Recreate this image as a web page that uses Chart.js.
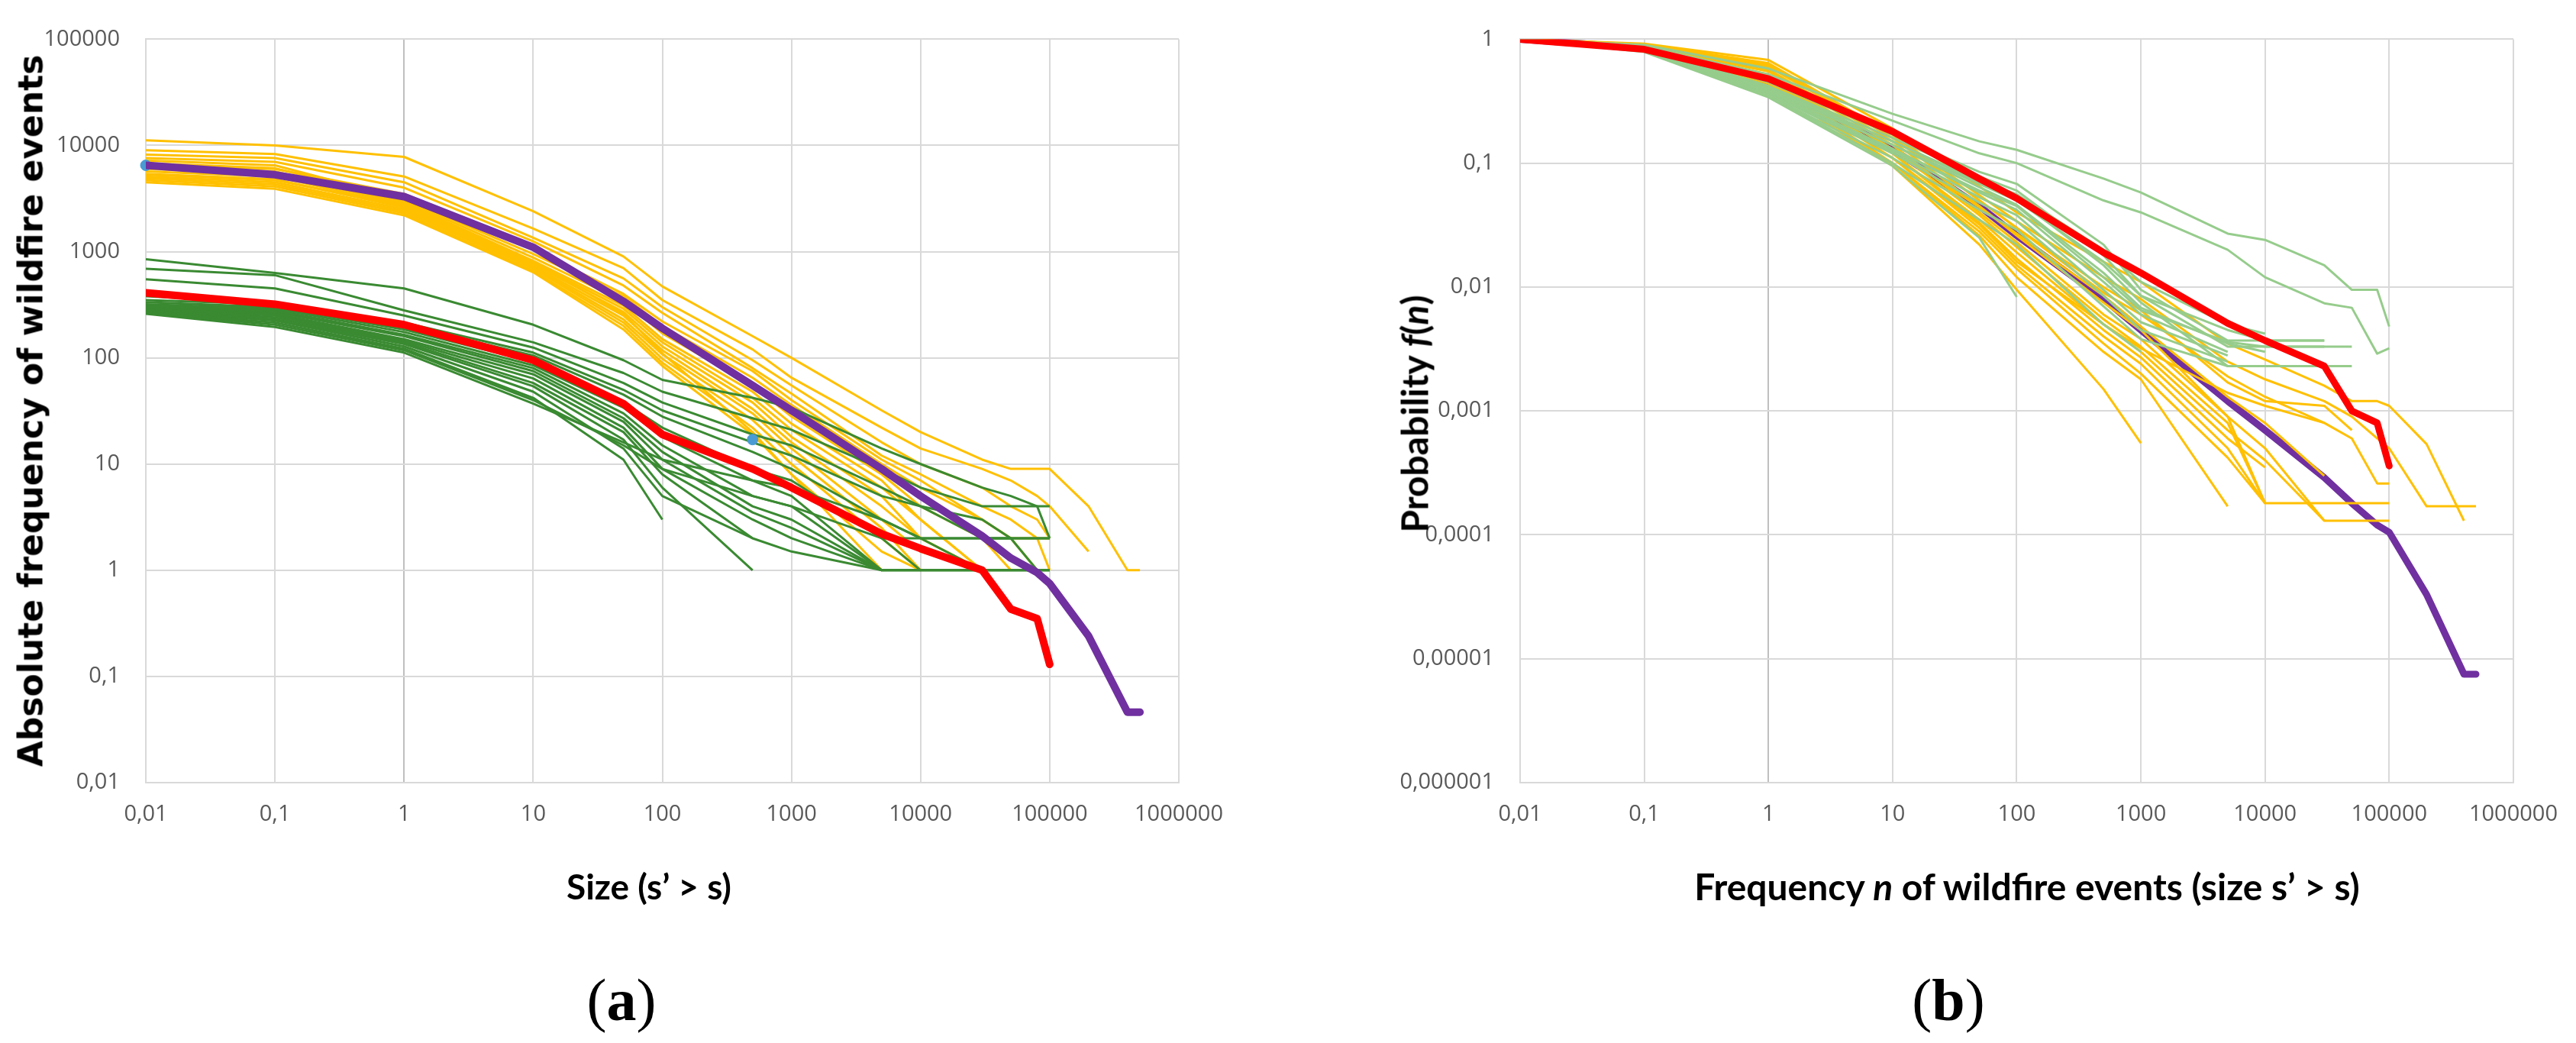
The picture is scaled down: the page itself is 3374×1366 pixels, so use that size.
<!DOCTYPE html>
<html>
<head>
<meta charset="utf-8">
<title>Wildfire frequency distributions</title>
<script src="https://cdn.jsdelivr.net/npm/chart.js@4.4.1/dist/chart.umd.min.js"></script>
<style>
    html, body { margin: 0; padding: 0; background: #ffffff; }
    body { width: 3374px; height: 1366px; position: relative; overflow: hidden; }
    canvas { position: absolute; top: 0; }
    #chartA { left: 0; }
    #chartB { left: 1700px; }
    .lbl { position: absolute; white-space: nowrap; color: #000; }
    .ytitle { transform: translate(-50%, -50%) rotate(-90deg); }
    .xtitle { transform: translate(-50%, -50%); }
</style>
</head>
<body>
<canvas id="chartA" width="1700" height="1366"></canvas>
<canvas id="chartB" width="1674" height="1366"></canvas>

<div class="lbl ytitle" style="left:40px; top:538px; font:bold 44px 'DejaVu Sans';">Absolute frequency of wildfire events</div>
<div class="lbl xtitle" style="left:850px; top:1160px; font:bold 46px Lato;">Size (s’ &gt; s)</div>
<div class="lbl xtitle" style="left:814px; top:1310px; font:78px 'Liberation Serif';">(<b>a</b>)</div>

<div class="lbl ytitle" style="left:1852px; top:542px; font:bold 48px Lato;">Probability <i>f</i>(<i>n</i>)</div>
<div class="lbl xtitle" style="left:2655px; top:1160px; font:bold 48px Lato;">Frequency <i>n</i> of wildfire events (size s’ &gt; s)</div>
<div class="lbl xtitle" style="left:2552px; top:1310px; font:78px 'Liberation Serif';">(<b>b</b>)</div>

<script>
// x thresholds shared by every series (size s for panel a, frequency n for panel b)
const sizeA = [0.01, 0.1, 1, 10, 50, 100, 500, 1000, 5000, 10000, 30000, 50000, 80000, 100000, 200000, 400000, 500000];
const freqB = [0.01, 0.1, 1, 10, 50, 100, 500, 1000, 5000, 10000, 30000, 50000, 80000, 100000, 200000, 400000, 500000];

// tick labels (comma decimals as in the original)
const xTickValues = [0.01, 0.1, 1, 10, 100, 1000, 10000, 100000, 1000000];
const xTickLabels = ["0,01", "0,1", "1", "10", "100", "1000", "10000", "100000", "1000000"];
const yTickValuesA = [0.01, 0.1, 1, 10, 100, 1000, 10000, 100000];
const yTickLabelsA = ["0,01", "0,1", "1", "10", "100", "1000", "10000", "100000"];
const yTickValuesB = [0.000001, 0.00001, 0.0001, 0.001, 0.01, 0.1, 1];
const yTickLabelsB = ["0,000001", "0,00001", "0,0001", "0,001", "0,01", "0,1", "1"];

// Panel (a): absolute frequency
const purpleA = [6500, 5300, 3300, 1100, 340, 190, 55, 32, 9, 5, 2.1, 1.3, 0.95, 0.75, 0.24, 0.046, 0.046];
const redA = [410, 320, 205, 95, 37, 19, 9, 6, 2.2, 1.6, 1, 0.43, 0.35, 0.13];
const yellowA = [
    [11200, 10000, 7800, 2400, 900, 470, 160, 100, 32, 20, 11, 9, 9, 9, 4, 1, 1],
    [9000, 8300, 5100, 1650, 700, 350, 120, 65, 22, 14, 9, 7, 5, 4, 1.5],
    [8200, 7600, 4500, 1350, 560, 300, 95, 55, 16, 10, 6, 4, 3, 2],
    [7600, 7000, 4000, 1250, 480, 265, 80, 46, 12, 8, 4, 3, 2, 1],
    [7200, 6500, 3100, 950, 380, 200, 65, 36, 10, 6, 3, 2, 1],
    [6800, 6100, 3000, 880, 340, 170, 55, 28, 8, 4, 2, 1],
    [6300, 5700, 2900, 820, 310, 150, 48, 24, 7, 3, 1],
    [6000, 5400, 2800, 790, 290, 140, 42, 21, 6, 3, 1],
    [5700, 5100, 2700, 760, 270, 128, 38, 18, 5, 2, 1],
    [5400, 4800, 2600, 730, 250, 118, 33, 16, 4, 2, 1],
    [5100, 4500, 2500, 710, 230, 108, 30, 14, 3, 1.5, 1],
    [4900, 4300, 2400, 690, 215, 98, 26, 12, 2.5, 1],
    [4700, 4100, 2300, 660, 200, 90, 22, 10, 2, 1],
    [4500, 3900, 2200, 640, 185, 84, 19, 8, 1.5, 1],
    [5300, 4700, 2700, 800, 260, 110, 20, 8, 1],
    [6600, 6000, 3500, 1050, 400, 220, 75, 40, 11, 7, 3, 2, 2, 2]
];
const greenA = [
    [850, 630, 450, 205, 95, 62, 42, 34, 14, 10, 6, 5, 4, 2],
    [690, 600, 280, 140, 72, 48, 27, 21, 9, 6, 4, 4, 4, 4],
    [550, 450, 250, 125, 58, 38, 19, 15, 6, 4, 2, 2, 2, 2],
    [350, 320, 205, 105, 45, 28, 13, 9, 3, 2, 2, 2],
    [335, 300, 185, 92, 38, 22, 9, 7, 2, 1, 1, 1, 1, 1],
    [320, 290, 175, 85, 34, 18, 7, 5, 1, 1, 1, 1, 1, 1],
    [310, 280, 165, 80, 30, 15, 5, 4, 1, 1, 1],
    [300, 270, 160, 75, 27, 13, 4, 3, 1, 1],
    [295, 260, 150, 70, 25, 11, 3.5, 2.5, 1],
    [290, 250, 145, 64, 22, 9, 3, 2, 1],
    [285, 240, 140, 58, 20, 8, 2, 1.5, 1],
    [280, 230, 135, 54, 17, 6, 1],
    [275, 225, 128, 48, 14, 5, 2],
    [270, 215, 122, 42, 11, 3],
    [265, 205, 118, 40, 15, 9, 5, 4, 2, 2, 2, 2, 2, 2],
    [260, 195, 112, 37, 16, 11, 7, 6, 3, 2, 1, 1, 1, 1],
    [380, 330, 215, 112, 50, 32, 16, 12, 5, 4, 3, 2, 1]
];
// stray blue markers visible in panel (a)
const blueX = [0.01, 500];
const blueY = [6500, 17];

// Panel (b): probability f(n)
const purpleB = [1, 0.85, 0.45, 0.13, 0.045, 0.026, 0.008, 0.0045, 0.0012, 0.0007, 0.00029, 0.00018, 0.00012, 0.000105, 0.000033, 0.0000075, 0.0000075];
const redB = [1, 0.83, 0.48, 0.18, 0.075, 0.052, 0.019, 0.013, 0.0051, 0.0037, 0.0023, 0.001, 0.0008, 0.00036];
const yellowB = [
    [1, 0.92, 0.68, 0.19, 0.065, 0.04, 0.016, 0.011, 0.0035, 0.0026, 0.0016, 0.0012, 0.0012, 0.0011, 0.00054, 0.00013],
    [1, 0.91, 0.64, 0.17, 0.055, 0.034, 0.012, 0.008, 0.0025, 0.0018, 0.0012, 0.0009, 0.0006, 0.0005, 0.00017, 0.00017, 0.00017],
    [1, 0.9, 0.6, 0.16, 0.05, 0.03, 0.009, 0.006, 0.0019, 0.0013, 0.0008, 0.0006, 0.00026, 0.00026],
    [1, 0.89, 0.57, 0.15, 0.045, 0.026, 0.0075, 0.0045, 0.0009, 0.00018, 0.00018, 0.00018, 0.00018, 0.00018],
    [1, 0.88, 0.55, 0.14, 0.04, 0.023, 0.006, 0.0038, 0.0009, 0.0005, 0.00013, 0.00013, 0.00013, 0.00013],
    [1, 0.88, 0.52, 0.13, 0.038, 0.021, 0.0055, 0.0033, 0.0008, 0.00018],
    [1, 0.87, 0.5, 0.12, 0.035, 0.019, 0.005, 0.003, 0.0007, 0.0004, 0.00013],
    [1, 0.87, 0.48, 0.12, 0.033, 0.017, 0.0045, 0.0027, 0.0006, 0.00035],
    [1, 0.86, 0.46, 0.11, 0.03, 0.015, 0.004, 0.0024, 0.0005, 0.00018],
    [1, 0.86, 0.45, 0.1, 0.028, 0.014, 0.0035, 0.002, 0.00042, 0.00018],
    [1, 0.85, 0.44, 0.1, 0.026, 0.012, 0.003, 0.0018, 0.00017],
    [1, 0.85, 0.42, 0.095, 0.022, 0.0095, 0.0015, 0.00055],
    [1, 0.9, 0.62, 0.17, 0.05, 0.03, 0.01, 0.0065, 0.0017, 0.0012, 0.0011, 0.0007],
    [1, 0.86, 0.47, 0.11, 0.032, 0.016, 0.005, 0.0032, 0.0014, 0.0011, 0.0008],
    [1, 0.88, 0.5, 0.13, 0.044, 0.027, 0.0085, 0.0048, 0.0013, 0.0008, 0.0003]
];
const greenB = [
    [1, 0.9, 0.58, 0.25, 0.15, 0.128, 0.075, 0.058, 0.027, 0.024, 0.015, 0.0095, 0.0095, 0.0048],
    [1, 0.88, 0.52, 0.22, 0.12, 0.1, 0.05, 0.04, 0.02, 0.012, 0.0074, 0.0068, 0.0029, 0.0032],
    [1, 0.86, 0.45, 0.17, 0.085, 0.068, 0.022, 0.0095, 0.0037, 0.0037, 0.0037],
    [1, 0.85, 0.42, 0.16, 0.078, 0.06, 0.018, 0.0085, 0.0033, 0.0033, 0.0033],
    [1, 0.84, 0.4, 0.15, 0.07, 0.052, 0.015, 0.0075, 0.0023, 0.0023, 0.0023, 0.0023],
    [1, 0.83, 0.39, 0.14, 0.064, 0.046, 0.013, 0.0068, 0.0035, 0.003],
    [1, 0.82, 0.38, 0.13, 0.058, 0.042, 0.011, 0.006, 0.003],
    [1, 0.82, 0.37, 0.125, 0.053, 0.038, 0.0095, 0.0052, 0.0028],
    [1, 0.81, 0.36, 0.12, 0.048, 0.034, 0.0085, 0.0045, 0.0025],
    [1, 0.8, 0.35, 0.11, 0.042, 0.029, 0.007, 0.0038, 0.0023],
    [1, 0.8, 0.35, 0.1, 0.035, 0.022, 0.005, 0.003],
    [1, 0.79, 0.34, 0.095, 0.025, 0.0083],
    [1, 0.83, 0.4, 0.14, 0.068, 0.05, 0.016, 0.0085, 0.0045, 0.0037, 0.0037],
    [1, 0.84, 0.41, 0.15, 0.072, 0.056, 0.02, 0.011, 0.005, 0.0042],
    [1, 0.81, 0.37, 0.13, 0.06, 0.045, 0.012, 0.0065, 0.0036, 0.0033, 0.0033, 0.0033]
];

const YELLOW = "#FFC000";
const GREEN_DARK = "#3A8A32";
const GREEN_LIGHT = "#96CC8C";
const RED = "#FF0000";
const PURPLE = "#7030A0";
const BLUE = "#4A9BD4";

// pair a y-series with the shared x thresholds, skipping missing points
function toPoints(xs, ys) {
    const pts = [];
    ys.forEach((y, i) => {
        if (y !== null && y !== undefined) pts.push({ x: xs[i], y: y });
    });
    return pts;
}

function lineSet(xs, ys, color, width, order) {
    return {
        data: toPoints(xs, ys),
        borderColor: color,
        backgroundColor: color,
        borderWidth: width,
        pointRadius: 0,
        tension: 0,
        fill: false,
        borderJoinStyle: "round",
        borderCapStyle: width > 5 ? "round" : "butt",
        order: order
    };
}

const tickFont = { family: "'Open Sans'", size: 29 };
const gridColor = (ctx) => (ctx.tick && ctx.tick.value === 1 ? "#BFBFBF" : "#D9D9D9");

function createChart(canvasId, datasets, yMin, yMax, yValues, yLabels, yWidth, padRight) {
    return new Chart(document.getElementById(canvasId).getContext("2d"), {
        type: "line",
        data: { datasets: datasets },
        options: {
            responsive: false,
            animation: false,
            devicePixelRatio: 1,
            layout: { padding: { left: 0, top: 35, right: padRight, bottom: 0 } },
            plugins: {
                legend: { display: false },
                tooltip: { enabled: false }
            },
            scales: {
                x: {
                    type: "logarithmic",
                    min: 0.01,
                    max: 1000000,
                    afterBuildTicks: (scale) => { scale.ticks = xTickValues.map(v => ({ value: v })); },
                    afterFit: (scale) => { scale.height = 341; },
                    ticks: {
                        autoSkip: false,
                        maxRotation: 0,
                        padding: 24,
                        color: "#595959",
                        font: tickFont,
                        callback: (value, index) => xTickLabels[index]
                    },
                    grid: { color: gridColor, lineWidth: 2, drawTicks: false },
                    border: { color: "#D9D9D9", width: 2 }
                },
                y: {
                    type: "logarithmic",
                    min: yMin,
                    max: yMax,
                    afterBuildTicks: (scale) => { scale.ticks = yValues.map(v => ({ value: v })); },
                    afterFit: (scale) => { scale.width = yWidth; },
                    ticks: {
                        autoSkip: false,
                        padding: 34,
                        color: "#595959",
                        font: tickFont,
                        callback: (value, index) => yLabels[index]
                    },
                    grid: { color: "#D9D9D9", lineWidth: 2, drawTicks: false },
                    border: { color: "#D9D9D9", width: 2 }
                }
            }
        }
    });
}

// Panel (a)
const setsA = [];
setsA.push(lineSet(sizeA, redA, RED, 10, 0));
setsA.push(lineSet(sizeA, purpleA, PURPLE, 10, 1));
setsA.push({
    data: toPoints(blueX, blueY),
    showLine: false,
    pointRadius: 7,
    pointBackgroundColor: BLUE,
    pointBorderColor: BLUE,
    clip: false,
    order: 2
});
greenA.forEach(ys => setsA.push(lineSet(sizeA, ys, GREEN_DARK, 3, 3)));
yellowA.forEach(ys => setsA.push(lineSet(sizeA, ys, YELLOW, 3, 4)));
let chartA = createChart("chartA", setsA, 0.01, 100000, yTickValuesA, yTickLabelsA, 191, 156);

// Panel (b): purple sits under the thin lines, red stays on top
const setsB = [];
setsB.push(lineSet(freqB, redB, RED, 9, 0));
greenB.forEach(ys => setsB.push(lineSet(freqB, ys, GREEN_LIGHT, 3, 1)));
yellowB.forEach(ys => setsB.push(lineSet(freqB, ys, YELLOW, 3, 2)));
setsB.push(lineSet(freqB, purpleB, PURPLE, 9, 3));
let chartB = createChart("chartB", setsB, 0.000001, 1, yTickValuesB, yTickLabelsB, 291, 76);
</script>
</body>
</html>
